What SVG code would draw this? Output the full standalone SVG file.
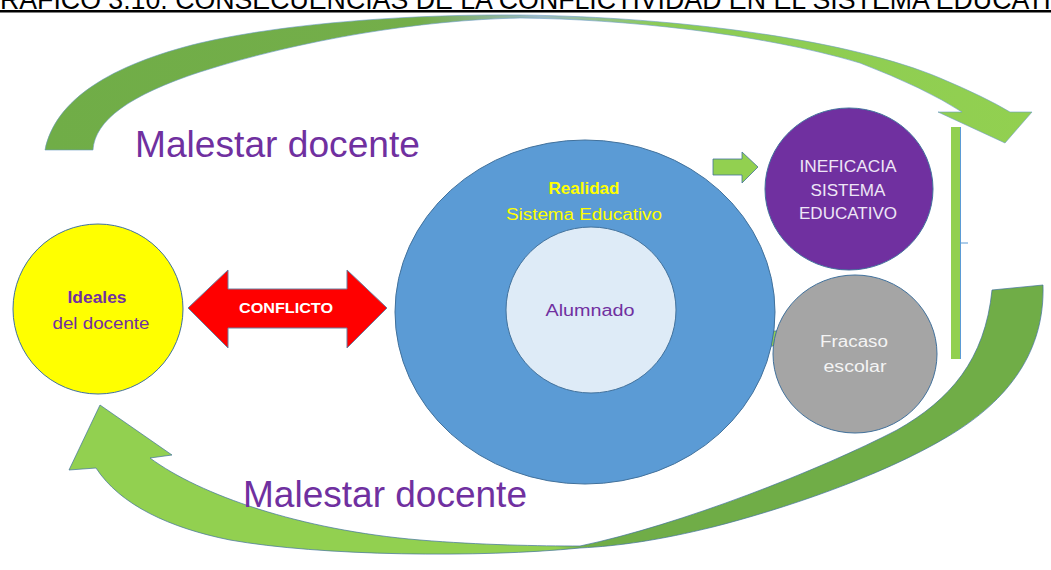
<svg xmlns="http://www.w3.org/2000/svg" width="1051" height="570" viewBox="0 0 1051 570">
<defs>
<style>
.t{font-family:"Liberation Sans",Arial,sans-serif}
.node{stroke:#41719C;stroke-width:1}
.lbl{font-family:"Liberation Sans",Arial,sans-serif;font-size:16px;text-anchor:middle}
.big{font-family:"Liberation Sans",Arial,sans-serif;font-size:37px;fill:#7030A0}
.garrow{fill:#92D050;stroke:#41719C;stroke-width:0.8}
</style>
<linearGradient id="gTop" x1="0" y1="0" x2="1" y2="0">
<stop offset="0" stop-color="#70AD47"/>
<stop offset="0.38" stop-color="#74AE4A"/>
<stop offset="0.5" stop-color="#9CB9C4"/>
<stop offset="0.62" stop-color="#8CCB55"/>
<stop offset="1" stop-color="#92D050"/>
</linearGradient>
<linearGradient id="gBot" x1="1" y1="0" x2="0" y2="0">
<stop offset="0" stop-color="#70AD47"/>
<stop offset="0.47" stop-color="#70AD47"/>
<stop offset="0.5" stop-color="#92D050"/>
<stop offset="1" stop-color="#92D050"/>
</linearGradient>
</defs>
<rect width="1051" height="570" fill="#FFFFFF"/>

<g id="title">
<text class="t" x="0" y="9" font-size="27" textLength="1051" lengthAdjust="spacingAndGlyphs" fill="#000000">RÁFICO 3.10. CONSECUENCIAS DE LA CONFLICTIVIDAD EN EL SISTEMA EDUCATI</text>
<rect x="0" y="10" width="1051" height="2.5" fill="#000000"/>
</g>

<g id="connectors">
<path id="arrow-top" d="M45,150 C55,100 110,65 200,43 C290,22 420,14 520,15 C680,17 850,40 940,78 Q985,97 1010,112 L1032,112 L1005,143 L938,112 L962,112 Q925,88 860,63 C760,33 620,19 520,18 C420,20 300,40 200,72 C130,95 95,120 93,150 Z" fill="url(#gTop)" stroke="#6A9BC4" stroke-width="0.6"/>
<path id="arrow-bottom" d="M992,290 L1043,285 C1045,350 1010,400 947,437 C880,477 780,510 713,527 C660,540 620,546 580,548 C480,558 320,556 230,540 C170,528 120,505 96,468 L69,470 L100,405 L172,455 L150,458 C200,495 300,530 420,540 C480,545 540,546 580,546 C680,525 820,470 897,430 C950,400 985,360 992,290 Z" fill="url(#gBot)" stroke="#41719C" stroke-width="0.7"/>
<g id="conflicto">
<polygon points="188,308 228,270 228,289 347,289 347,270 387,308 347,348 347,328 228,328 228,348" fill="#FF0000" stroke="#6A7FA0" stroke-width="1"/>
<text class="t" x="286" y="313" font-size="15" font-weight="bold" text-anchor="middle" fill="#FFFFFF" textLength="94" lengthAdjust="spacingAndGlyphs">CONFLICTO</text>
</g>
<polygon id="arrow-ineficacia" class="garrow" points="713,159 742,159 742,152 758,167 742,183 742,175 713,175"/>
<polygon id="arrow-fracaso" class="garrow" points="643,331 793,331 793,323 810,338 793,353 793,346 643,346"/>
<g id="bar">
<rect x="951" y="127" width="9" height="232" fill="#92D050"/>
<line x1="960.5" y1="127" x2="960.5" y2="359" stroke="#5B9BD5" stroke-width="1"/>
<line x1="960" y1="243" x2="968" y2="243" stroke="#5B9BD5" stroke-width="1"/>
</g>
</g>

<g id="ideales">
<circle class="node" cx="98" cy="309" r="85" fill="#FFFF00" stroke="#6B5A3A" stroke-width="1.2"/>
<text class="lbl" x="97" y="303" font-size="15" font-weight="bold" fill="#7030A0" textLength="59" lengthAdjust="spacingAndGlyphs">Ideales</text>
<text class="lbl" x="101" y="329" font-size="15" fill="#7030A0" textLength="97" lengthAdjust="spacingAndGlyphs">del docente</text>
</g>

<g id="realidad">
<ellipse class="node" cx="585" cy="312" rx="190" ry="172" fill="#5B9BD5"/>
<text class="lbl" x="584" y="194" font-weight="bold" fill="#FFFF00" textLength="71" lengthAdjust="spacingAndGlyphs">Realidad</text>
<text class="lbl" x="584" y="220" fill="#FFFF00" textLength="156" lengthAdjust="spacingAndGlyphs">Sistema Educativo</text>
</g>

<g id="alumnado">
<ellipse class="node" cx="591" cy="310" rx="85" ry="83" fill="#DEEBF7"/>
<text class="lbl" x="590" y="316" fill="#7030A0" textLength="89" lengthAdjust="spacingAndGlyphs">Alumnado</text>
</g>

<g id="ineficacia">
<ellipse class="node" cx="849" cy="189" rx="84" ry="81" fill="#7030A0"/>
<text class="lbl" x="848" y="172" fill="#EEE6F6" textLength="97" lengthAdjust="spacingAndGlyphs">INEFICACIA</text>
<text class="lbl" x="848" y="196" fill="#EEE6F6" textLength="75" lengthAdjust="spacingAndGlyphs">SISTEMA</text>
<text class="lbl" x="848" y="219" fill="#EEE6F6" textLength="98" lengthAdjust="spacingAndGlyphs">EDUCATIVO</text>
</g>

<g id="fracaso">
<ellipse class="node" cx="855" cy="354" rx="82" ry="79" fill="#A5A5A5"/>
<text class="lbl" x="854" y="347" fill="#F4F4F4" textLength="68" lengthAdjust="spacingAndGlyphs">Fracaso</text>
<text class="lbl" x="855" y="372" fill="#F4F4F4" textLength="63" lengthAdjust="spacingAndGlyphs">escolar</text>
</g>

<g id="malestar-top">
<text class="big" x="135" y="157" textLength="285" lengthAdjust="spacingAndGlyphs">Malestar docente</text>
</g>
<g id="malestar-bottom">
<text class="big" x="243" y="507" textLength="284" lengthAdjust="spacingAndGlyphs">Malestar docente</text>
</g>
</svg>
